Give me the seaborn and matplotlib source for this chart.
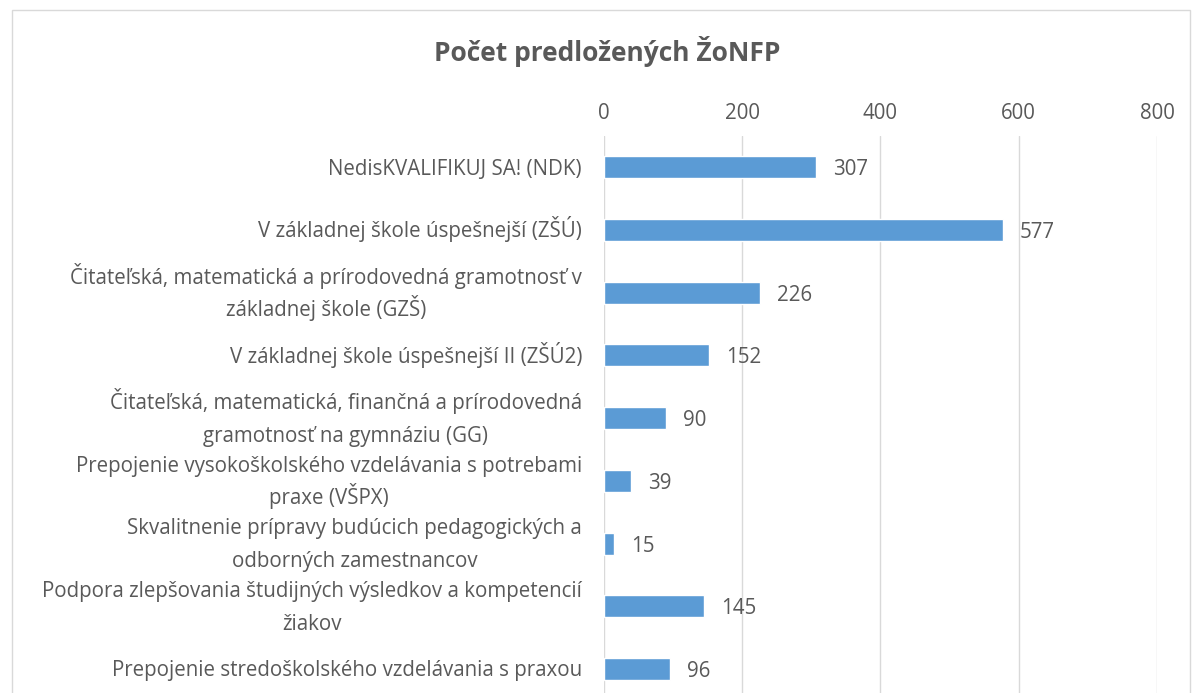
import matplotlib
matplotlib.use("Agg")
import matplotlib.pyplot as plt
import matplotlib.transforms as mtransforms
import seaborn as sns
import pandas as pd
from matplotlib.patches import Rectangle

categories = [
    "NedisKVALIFIKUJ SA! (NDK)",
    "V základnej škole úspešnejší (ZŠÚ)",
    "Čitateľská, matematická a prírodovedná gramotnosť v\nzákladnej škole (GZŠ)",
    "V základnej škole úspešnejší II (ZŠÚ2)",
    "Čitateľská, matematická, finančná a prírodovedná\ngramotnosť na gymnáziu (GG)",
    "Prepojenie vysokoškolského vzdelávania s potrebami\npraxe (VŠPX)",
    "Skvalitnenie prípravy budúcich pedagogických a\nodborných zamestnancov",
    "Podpora zlepšovania študijných výsledkov a kompetencií\nžiakov",
    "Prepojenie stredoškolského vzdelávania s praxou",
]
counts = [307, 577, 226, 152, 90, 39, 15, 145, 96]
x_ticks = [0, 200, 400, 600, 800]
title = "Počet predložených ŽoNFP"

df = pd.DataFrame({"program": categories, "count": counts})

sns.set_theme(style="white")
plt.rcParams["font.family"] = ["Open Sans", "DejaVu Sans"]
text_color = "#595959"
bar_color = "#5B9BD5"
fs = 14.8

fig = plt.figure(figsize=(11.92, 6.93), dpi=100)
fig.patches.append(Rectangle((0.010, -0.01), 0.988, 0.996, transform=fig.transFigure,
                             fill=False, edgecolor="#D9D9D9", linewidth=1))
ax = fig.add_axes([0.5067, -0.0105, 0.4639, 0.8142])

sns.barplot(data=df, y="program", x="count", orient="h", color=bar_color,
            width=0.35, saturation=1, ax=ax, zorder=3)

ax.set_xlim(0, 800)
ax.set_xticks(x_ticks)
ax.xaxis.tick_top()
ax.tick_params(axis="x", length=0, pad=9, labelsize=fs, labelcolor=text_color)
ax.tick_params(axis="y", length=0)
ax.set_yticklabels([])
ax.grid(axis="x", color="#D9D9D9", linewidth=1, zorder=0)
ax.set_xlabel("")
ax.set_ylabel("")
for s in ax.spines.values():
    s.set_visible(False)

for c in ax.containers:
    for t in ax.bar_label(c, padding=12, fontsize=fs, color=text_color):
        t.set_va("center_baseline")

# category labels: block right-aligned, lines centred within the block
renderer = fig.canvas.get_renderer()
base = mtransforms.blended_transform_factory(ax.transAxes, ax.transData)
line_gap = 0.26
baseline_shift = 0.115
for i, label in enumerate(categories):
    lines = label.split("\n")
    widths = []
    for ln in lines:
        t = fig.text(0, 0, ln, fontsize=fs)
        widths.append(t.get_window_extent(renderer).width)
        t.remove()
    w = max(widths)
    tr = mtransforms.offset_copy(base, fig=fig, x=-(22 + w / 2) * 72 / fig.dpi, y=0, units="points")
    n = len(lines)
    for j, ln in enumerate(lines):
        y = i + (j - (n - 1) / 2) * 2 * line_gap + baseline_shift
        ax.text(0, y, ln, transform=tr, ha="center", va="baseline", fontsize=fs,
                color=text_color)

fig.text(0.509, 0.925, title, ha="center", va="center", fontsize=19,
         fontweight="bold", color=text_color)

fig.savefig("out.png", dpi=100)
